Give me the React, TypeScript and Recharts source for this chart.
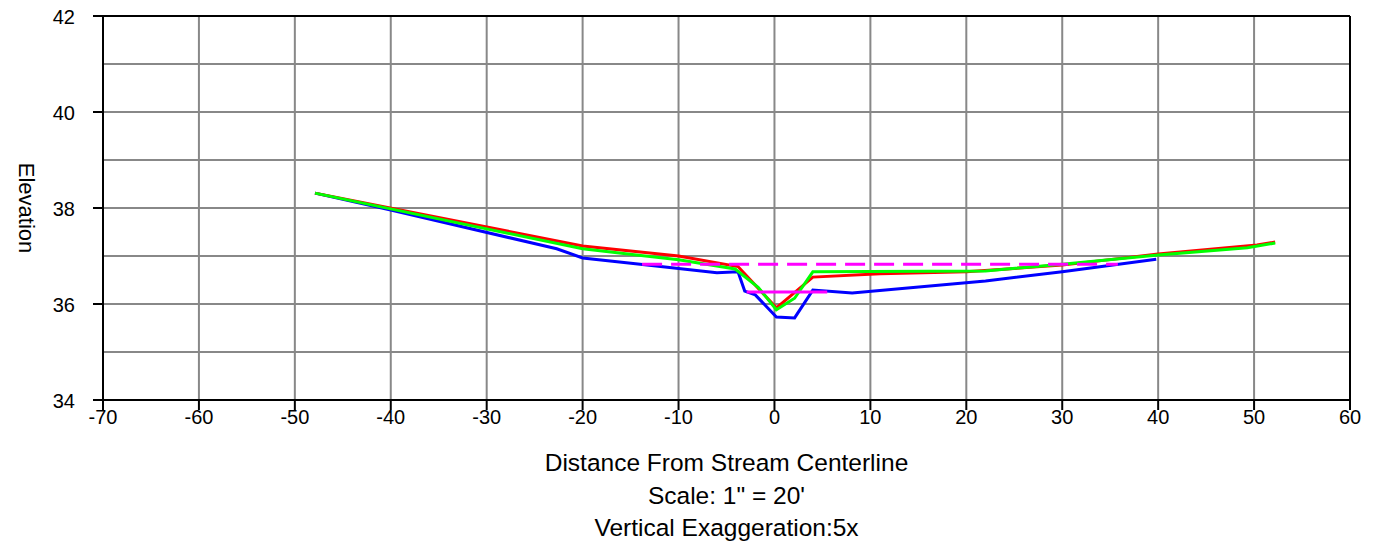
import React from 'react';
import { LineChart, Line, XAxis, YAxis, CartesianGrid, ReferenceLine, Label } from 'recharts';

const xTicks = [-70, -60, -50, -40, -30, -20, -10, 0, 10, 20, 30, 40, 50, 60];
const yTicks = [34, 35, 36, 37, 38, 39, 40, 41, 42];
const yLabeledTicks = [34, 36, 38, 40, 42];

const blueSeries: [number, number][] = [
  [-47.9, 38.31], [-40, 37.96], [-22.7, 37.15], [-20, 36.96], [-14, 36.83], [-6, 36.65],
  [-3.8, 36.67], [-3.1, 36.27], [-2, 36.19], [0.2, 35.73], [2.1, 35.71], [4, 36.29],
  [8.1, 36.23], [22, 36.48], [30, 36.67], [39.8, 36.93],
];
const redSeries: [number, number][] = [
  [-47.9, 38.31], [-20, 37.21], [-10, 37.0], [-3.8, 36.78], [0.2, 35.92], [4, 36.56],
  [11, 36.63], [20, 36.67], [30, 36.81], [40, 37.04], [50.3, 37.23], [52.2, 37.29],
];
const greenSeries: [number, number][] = [
  [-47.9, 38.31], [-20, 37.15], [-10, 36.92], [-4.1, 36.73], [-1.7, 36.35], [0.2, 35.88],
  [2.1, 36.12], [4, 36.67], [22, 36.69], [30, 36.83], [40, 37.02], [49.3, 37.17], [52.2, 37.27],
];
const dashedMagenta: [number, number][] = [[-13.8, 36.83], [35.8, 36.83]];
const solidMagenta: [number, number][] = [[-2.9, 36.25], [5.5, 36.25]];

const toPts = (a: [number, number][]) => a.map(([x, y]) => ({ x, y }));

const FONT = 'Liberation Sans, Arial, sans-serif';

const YTick = (props: any) => {
  const { y, payload } = props;
  if (!yLabeledTicks.includes(payload.value)) return null;
  return (
    <g>
      <line x1={93} x2={103} y1={y} y2={y} stroke="#000" strokeWidth={2} />
      <text x={75} y={y + 1} dy="0.35em" textAnchor="end" fontSize={20} fontFamily={FONT} fill="#000">
        {payload.value}
      </text>
    </g>
  );
};

const XTick = (props: any) => {
  const { x, payload } = props;
  return (
    <text x={x} y={417} dy="0.35em" textAnchor="middle" fontSize={20} fontFamily={FONT} fill="#000">
      {payload.value}
    </text>
  );
};

const XTitle = (props: any) => {
  const vb = props.viewBox || { x: 103, width: 1247 };
  const cx = vb.x + vb.width / 2;
  return (
    <g fontFamily={FONT} fontSize={24.5} fill="#000">
      <text x={cx} y={471} textAnchor="middle">Distance From Stream Centerline</text>
      <text x={cx} y={504} textAnchor="middle">Scale: 1" = 20'</text>
      <text x={cx} y={536} textAnchor="middle">Vertical Exaggeration:5x</text>
    </g>
  );
};

const YTitle = (props: any) => {
  const vb = props.viewBox || { y: 16, height: 384 };
  const cy = vb.y + vb.height / 2;
  return (
    <text x={27} y={cy} transform={`rotate(90 27 ${cy})`} textAnchor="middle" dy="0.35em"
      fontFamily={FONT} fontSize={22} fill="#000">
      Elevation
    </text>
  );
};

export default function App() {
  return (
    <div style={{ position: 'absolute', left: 0, top: 0, width: 1385, height: 541 }}>
      <LineChart width={1385} height={541} margin={{ top: 16, right: 35, left: 0, bottom: 111 }}
        style={{ fontFamily: FONT }}>
        <CartesianGrid stroke="#888" strokeWidth={2} horizontal vertical />
        <XAxis type="number" dataKey="x" domain={[-70, 60]} ticks={xTicks} allowDataOverflow
          height={30} tickSize={10} tickLine={{ stroke: '#000', strokeWidth: 2 }}
          axisLine={{ stroke: '#000', strokeWidth: 2 }} tick={<XTick />} interval={0}>
          <Label content={<XTitle />} />
        </XAxis>
        <YAxis type="number" domain={[34, 42]} ticks={yTicks} allowDataOverflow width={103}
          tickLine={false} axisLine={{ stroke: '#000', strokeWidth: 2 }} tick={<YTick />} interval={0}>
          <Label content={<YTitle />} />
        </YAxis>
        <ReferenceLine y={42} stroke="#000" strokeWidth={2} />
        <ReferenceLine x={60} stroke="#000" strokeWidth={2} />
        <Line data={toPts(blueSeries)} dataKey="y" stroke="#0000ff" strokeWidth={3} dot={false}
          isAnimationActive={false} />
        <Line data={toPts(redSeries)} dataKey="y" stroke="#ff0000" strokeWidth={3} dot={false}
          isAnimationActive={false} />
        <Line data={toPts(greenSeries)} dataKey="y" stroke="#00ff00" strokeWidth={3} dot={false}
          isAnimationActive={false} />
        <Line data={toPts(dashedMagenta)} dataKey="y" stroke="#ff00ff" strokeWidth={3} dot={false}
          strokeDasharray="20 9" isAnimationActive={false} />
        <Line data={toPts(solidMagenta)} dataKey="y" stroke="#ff00ff" strokeWidth={3} dot={false}
          isAnimationActive={false} />
      </LineChart>
    </div>
  );
}
